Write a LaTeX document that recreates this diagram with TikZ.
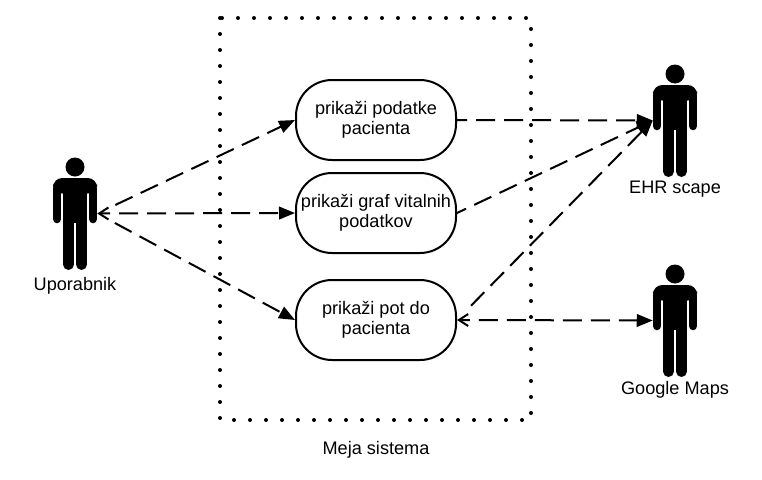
\documentclass[tikz,border=0pt]{standalone}
\usepackage{fontspec}
\setmainfont{Liberation Sans}
\usetikzlibrary{arrows.meta}
\tikzset{
	x=0.75pt, y=-0.75pt,
	usecase/.style={draw, line width=1.5pt, fill=white, rounded corners=27pt, minimum width=120pt, minimum height=60pt, align=center, inner sep=0pt, font=\fontsize{13.6}{15}\selectfont},
	actorbox/.style={minimum width=33pt, minimum height=84.75pt, inner sep=0pt},
	caption/.style={inner sep=0pt, font=\fontsize{13.6}{15}\selectfont},
	flow/.style={line width=1.5pt, dash pattern=on 14.25pt off 6.75pt, dash phase=6.75pt},
	lateflow/.style={flow, shorten <=15pt, dash phase=0pt},
	solidtip/.style={-{Triangle[length=12pt,width=9.5pt]}},
	opentip/.style={{Straight Barb[length=7pt,width=9pt]}-{Triangle[length=12pt,width=9.5pt]}},
}
% one figure, drawn around the middle of its box
\def\actorfig(#1){
	\begin{scope}[shift={(#1)}]
		\fill (0,-46.5) circle (9.5);
		\fill[rounded corners=7pt] (-22,-20) -- (-22,-35.5) -- (22,-35.5) -- (22,-20) -- cycle;
		\fill (-11.7,-30) rectangle (11.7,9);
		\draw[line width=6.4pt, line cap=round] (-18,-25) -- (-18,5.5) (18,-25) -- (18,5.5);
		\draw[line width=8.2pt, line cap=round] (-6.5,0) -- (-6.5,51) (6.5,0) -- (6.5,51);
	\end{scope}
}
\begin{document}
\begin{tikzpicture}
	\useasboundingbox (0,0) rectangle (762,479);
	\fill[white] (0,0) rectangle (762,479);

	% system boundary
	\draw[line width=3pt, line cap=round, dash pattern=on 0pt off 12pt] (220,18) rectangle (531,420);
	\node[caption] (meja) at (376,449.5) {Meja sistema};

	% use cases
	\node[usecase] (podatki) at (376,120) {prikaži podatke\\pacienta};
	\node[usecase] (graf) at (376,213) {prikaži graf vitalnih\\podatkov};
	\node[usecase] (pot) at (376,320) {prikaži pot do\\pacienta};

	% actors
	\node[actorbox] (uporabnik) at (75,213.5) {};
	\node[actorbox] (ehr) at (675,120.5) {};
	\node[actorbox] (maps) at (675,320.5) {};
	\actorfig(uporabnik)
	\actorfig(ehr)
	\actorfig(maps)
	\node[caption] (lblup) at (75,285.5) {Uporabnik};
	\node[caption] (lblehr) at (675,189) {EHR scape};
	\node[caption] (lblmaps) at (675,389.5) {Google Maps};

	% connectors
	\draw[lateflow, solidtip] (uporabnik.east) -- (podatki.west);
	\draw[flow, opentip] (uporabnik.east) -- (graf.west);
	\draw[lateflow, solidtip] (uporabnik.east) -- (pot.west);
	\draw[flow, solidtip] (podatki.east) -- (ehr.west);
	\draw[flow, solidtip] (graf.east) -- (ehr.west);
	\draw[lateflow, solidtip] (pot.east) -- (ehr.west);
	\draw[flow, opentip] (pot.east) -- (maps.west);
\end{tikzpicture}
\end{document}
